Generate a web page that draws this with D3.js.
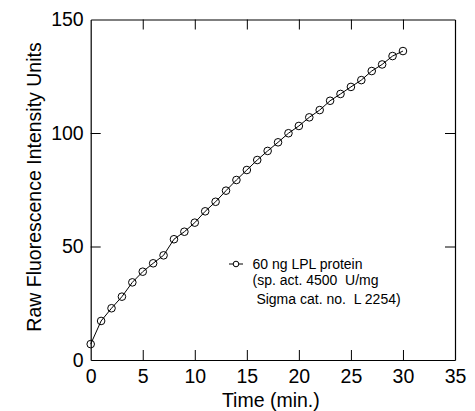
<!DOCTYPE html>
<html>
<head>
  <title>LPL Fluorescence</title>
  <script src="https://d3js.org/d3.v7.min.js"></script>
  <style>
    body { margin: 0; background: white; }
    text { font-family: "Liberation Sans", Arial, sans-serif; fill: black; }
  </style>
</head>
<body>
<script type="text/javascript">
  var w = 475;
  var h = 411;

  // data
  var times = [0, 1, 2, 3, 4, 5, 6, 7, 8, 9, 10, 11, 12, 13, 14, 15, 16, 17, 18, 19, 20,
               21, 22, 23, 24, 25, 26, 27, 28, 29, 30];
  var intensity = [7.0, 17.2, 22.8, 27.9, 34.2, 38.9, 42.6, 46.1, 53.2, 56.5, 60.5,
                   65.5, 69.7, 74.6, 79.3, 83.7, 88.1, 92.1, 95.9, 99.9, 103.1,
                   106.9, 110.1, 114.2, 117.2, 120.3, 123.3, 127.3, 130.2, 133.9, 136.1];
  var xTicks = [0, 5, 10, 15, 20, 25, 30, 35];
  var yTicks = [0, 50, 100, 150];
  var legendLines = ["60 ng LPL protein", "(sp. act. 4500  U/mg", " Sigma cat. no.  L 2254)"];

  var data = times.map(function(t, i){ return {t: t, v: intensity[i]}; });

  // plot box (window.top is reserved, so use other names)
  var plotLeft = 90.7, plotRight = 455, plotTop = 19.5, plotBottom = 360;
  var tickLen = 10;

  var svg = d3.select("body").append("svg")
    .attr("width", w)
    .attr("height", h);

  var xScale = d3.scaleLinear().domain([0, 35]).range([plotLeft, plotRight]);
  var yScale = d3.scaleLinear().domain([0, 150]).range([plotBottom, plotTop]);

  // bottom axis, ticks pointing inward
  var xAxis = svg.append("g")
    .attr("transform", "translate(0," + plotBottom + ")")
    .call(d3.axisBottom(xScale).tickValues(xTicks).tickSizeInner(-tickLen).tickSizeOuter(0).tickPadding(11));
  // top axis, only ticks
  var xTop = svg.append("g")
    .attr("transform", "translate(0," + plotTop + ")")
    .call(d3.axisTop(xScale).tickValues(xTicks).tickSizeInner(-tickLen).tickSizeOuter(0).tickFormat(""));
  var yAxis = svg.append("g")
    .attr("transform", "translate(" + plotLeft + ",0)")
    .call(d3.axisLeft(yScale).tickValues(yTicks).tickSizeInner(-tickLen).tickSizeOuter(0).tickPadding(7));
  var yRight = svg.append("g")
    .attr("transform", "translate(" + plotRight + ",0)")
    .call(d3.axisRight(yScale).tickValues(yTicks).tickSizeInner(-tickLen).tickSizeOuter(0).tickFormat(""));

  [xAxis, xTop, yAxis, yRight].forEach(function(g){
    g.select(".domain").attr("stroke", "black").attr("stroke-width", 1.2);
    g.selectAll(".tick line").attr("stroke", "black").attr("stroke-width", 1);
    g.selectAll(".tick text")
      .style("font-size", "19.5px")
      .style("font-family", "'Liberation Sans', Arial, sans-serif")
      .attr("fill", "black");
  });
  // the tick marks at the corners are not drawn
  xAxis.selectAll(".tick line").filter(function(d){ return d == 0 || d == 35; }).remove();
  xTop.selectAll(".tick line").filter(function(d){ return d == 0 || d == 35; }).remove();
  yRight.selectAll(".tick line").filter(function(d){ return d == 0 || d == 150; }).remove();
  yAxis.selectAll(".tick line").filter(function(d){ return d == 0 || d == 150; }).remove();
  xAxis.selectAll(".tick text").attr("dy", "0.62em");

  // axis titles
  svg.append("text")
    .attr("x", (plotLeft + plotRight) / 2 - 2)
    .attr("y", 407)
    .style("text-anchor", "middle")
    .style("font-size", "19.5px")
    .text("Time (min.)");

  svg.append("text")
    .attr("transform", "translate(41," + 187 + ")rotate(-90)")
    .style("text-anchor", "middle")
    .style("font-size", "19.5px")
    .text("Raw Fluorescence Intensity Units");

  // the curve
  var line = d3.line()
    .x(function(d){ return xScale(d.t); })
    .y(function(d){ return yScale(d.v); });

  svg.append("path")
    .datum(data)
    .attr("d", line)
    .attr("fill", "none")
    .attr("stroke", "black")
    .attr("stroke-width", 1);

  svg.selectAll("circle.pt")
    .data(data)
    .enter()
    .append("circle")
    .attr("class", "pt")
    .attr("cx", function(d){ return xScale(d.t); })
    .attr("cy", function(d){ return yScale(d.v); })
    .attr("r", 3.8)
    .attr("fill", "none")
    .attr("stroke", "black")
    .attr("stroke-width", 1);

  // legend
  var lg = svg.append("g").attr("transform", "translate(229,264)");
  lg.append("line").attr("x1", 0).attr("x2", 14).attr("y1", 0).attr("y2", 0)
    .attr("stroke", "black").attr("stroke-width", 1);
  lg.append("circle").attr("cx", 7).attr("cy", 0).attr("r", 2.8)
    .attr("fill", "white").attr("stroke", "black").attr("stroke-width", 1);

  var legendY = [269, 285, 303.5];
  svg.selectAll("text.legend")
    .data(legendLines)
    .enter()
    .append("text")
    .attr("class", "legend")
    .attr("x", 252.5)
    .attr("y", function(d, i){ return legendY[i]; })
    .style("font-size", "14px")
    .style("white-space", "pre")
    .attr("xml:space", "preserve")
    .text(function(d){ return d; });
</script>
</body>
</html>
